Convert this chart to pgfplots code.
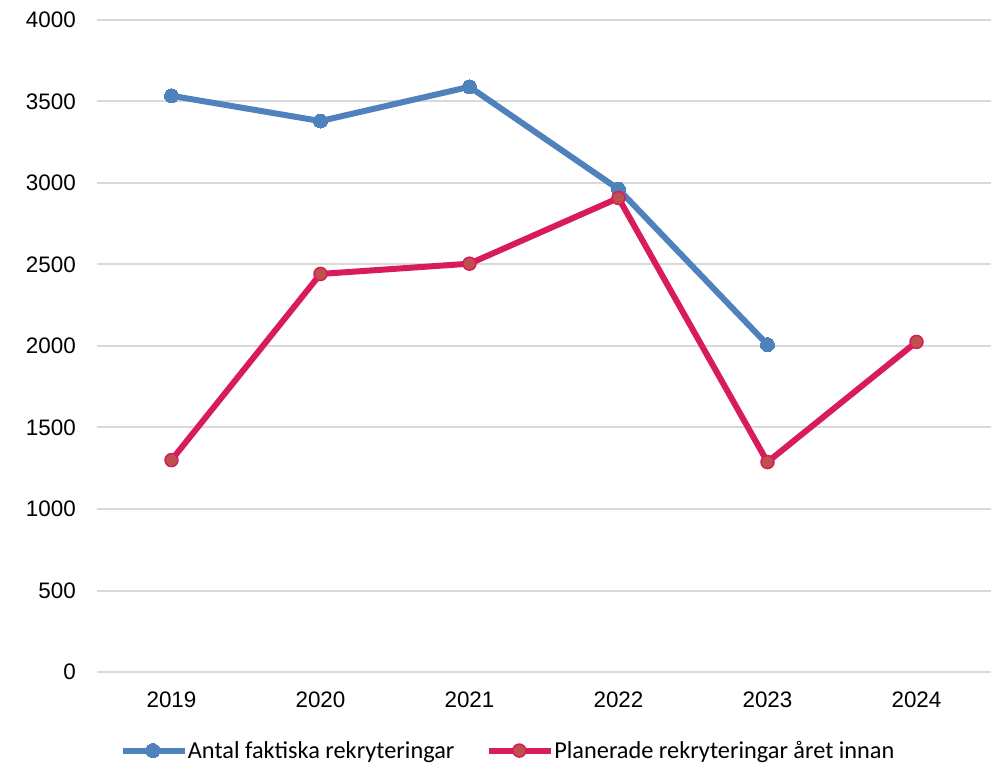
\documentclass[border=0pt]{standalone}
\usepackage{fontspec}
\setmainfont{Liberation Sans}
\newfontfamily\legendfont{Carlito}
\usepackage{pgfplots}
\pgfplotsset{compat=1.18}

\definecolor{faktblue}{HTML}{4F81BD}
\definecolor{planred}{HTML}{D81B5B}
\definecolor{planfill}{HTML}{C0504D}
\definecolor{gridgray}{HTML}{D9D9D9}

\begin{document}
\begin{tikzpicture}
\begin{axis}[
  scale only axis,
  width=894bp, height=652bp,
  xmin=-0.5, xmax=5.5,
  ymin=0, ymax=4000,
  xtick={0,1,2,3,4,5},
  xticklabels={2019,2020,2021,2022,2023,2024},
  ytick={0,500,...,4000},
  axis line style={draw=none},
  major tick length=0pt,
  ymajorgrids,
  grid style={gridgray, line width=2bp},
  /pgf/number format/assume math mode=true,
  /pgf/number format/1000 sep={},
  tick label style={font=\fontsize{22.5}{26}\selectfont, text=black},
  yticklabel style={inner sep=0pt, anchor=east, xshift=-21bp},
  xticklabel style={inner sep=0pt, anchor=north, yshift=-20bp},
  legend columns=2,
  legend style={
    draw=none, fill=none, inner xsep=0pt, inner ysep=0pt,
    at={(0.0254,-0.1205)}, anchor=west,
    font=\legendfont\fontsize{24.4}{28}\selectfont,
    /tikz/every even column/.append style={column sep=32bp},
    nodes={inner xsep=0pt, inner ysep=1bp},
  },
  legend image code/.code={
    \draw[#1, mark=none] (0bp,0bp) -- (62bp,0bp);
    \draw[#1, mark repeat=2, mark phase=2] plot coordinates {(0bp,0bp) (30bp,0bp) (60bp,0bp)};
  },
]
% actual recruitments
\addplot[color=faktblue, line width=6bp, mark=*, mark size=7bp,
  mark options={fill=faktblue, draw=faktblue, line width=0bp}]
  coordinates {(0,3535) (1,3380) (2,3590) (3,2962) (4,2008)};
\addlegendentry{Antal faktiska rekryteringar}
% planned recruitments the year before
\addplot[color=planred, line width=6bp, mark=*, mark size=6.5bp,
  mark options={fill=planfill, draw=planred, line width=1.5bp}]
  coordinates {(0,1300) (1,2442) (2,2505) (3,2908) (4,1288) (5,2025)};
\addlegendentry{Planerade rekryteringar året innan}
\end{axis}
\path[use as bounding box] (current axis.south west) ++(-97bp,-93bp) rectangle ++(994bp,765bp);
\end{tikzpicture}
\end{document}
